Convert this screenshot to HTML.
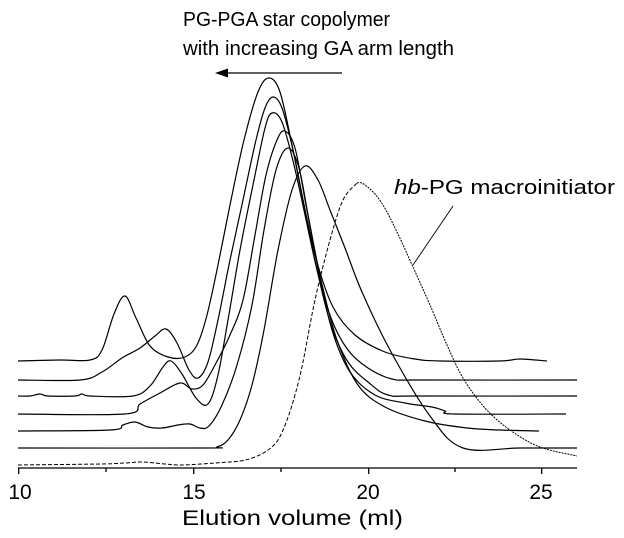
<!DOCTYPE html>
<html><head><meta charset="utf-8"><style>
html,body{margin:0;padding:0;background:#fff;}
svg{display:block;}
text{font-family:"Liberation Sans",Arial,sans-serif;fill:#000;}
</style></head><body>
<svg id="s" width="624" height="538" viewBox="0 0 624 538" xmlns="http://www.w3.org/2000/svg">
<g stroke="#000" stroke-width="1.3" fill="none">
<line x1="18" y1="468" x2="577" y2="468"/>
<line x1="18.7" y1="468" x2="18.7" y2="474"/>
<line x1="193.7" y1="468" x2="193.7" y2="474"/>
<line x1="368.7" y1="468" x2="368.7" y2="474"/>
<line x1="541.7" y1="468" x2="541.7" y2="474"/>
<line x1="106" y1="468" x2="106" y2="472"/>
<line x1="281" y1="468" x2="281" y2="472"/>
<line x1="455" y1="468" x2="455" y2="472"/>
<line x1="228" y1="73" x2="342" y2="73"/>
<line x1="453" y1="206" x2="413" y2="265" stroke-width="0.9"/>
</g>
<polygon points="215,73 228,68.5 228,77.5" fill="#000"/>
<text x="20" y="499" font-size="21" text-anchor="middle">10</text>
<text x="194" y="499" font-size="21" text-anchor="middle">15</text>
<text x="368" y="499" font-size="21" text-anchor="middle">20</text>
<text x="541" y="499" font-size="21" text-anchor="middle">25</text>
<text x="182" y="525" font-size="21" textLength="221" lengthAdjust="spacingAndGlyphs">Elution  volume (ml)</text>
<text x="183" y="26" font-size="20" textLength="207" lengthAdjust="spacingAndGlyphs">PG-PGA star copolymer</text>
<text x="183" y="55" font-size="20" textLength="271" lengthAdjust="spacingAndGlyphs">with increasing GA arm length</text>
<text x="394" y="194" font-size="20" textLength="221" lengthAdjust="spacingAndGlyphs"><tspan font-style="italic">hb</tspan>-PG macroinitiator</text>
<g id="curves" stroke="#000" stroke-width="1.2" fill="none"></g>
</svg>
<script>
var C=[
 [[18,361],[60,360],[90,360],[102,350],[114,314],[125,296],[136,318],[150,346],[168,357],[185,357],[197,345],[207,315],[218,265],[230,205],[244,140],[258,92],[269,78],[280,92],[292,145],[304,205],[317,262],[333,307],[355,335],[385,352],[415,359],[440,361],[500,361],[520,359],[547,361]],
 [[18,380],[80,380],[102,372],[122,358],[140,348],[155,336],[166,329],[177,343],[189,370],[198,378],[208,362],[218,320],[230,260],[243,200],[256,140],[265,108],[273,97],[282,108],[293,150],[304,205],[316,265],[331,318],[348,350],[368,368],[392,379],[420,380],[577,380]],
 [[18,396],[30,396],[40,394],[48,396],[75,396],[82,394],[90,396],[133,396],[150,386],[163,367],[171,361],[182,374],[196,398],[208,404],[218,375],[228,320],[240,250],[254,180],[265,128],[272,113],[282,122],[294,165],[305,215],[317,270],[331,325],[348,362],[368,382],[388,395],[420,396],[577,396]],
 [[18,414],[125,414],[140,404],[160,393],[180,383],[192,389],[203,385],[215,365],[230,335],[243,300],[255,235],[266,175],[277,140],[285,131],[295,148],[306,205],[318,268],[332,330],[350,372],[375,395],[405,403],[432,407],[445,411],[455,414],[566,414]],
 [[18,431],[110,430],[123,425],[135,422],[148,427],[162,428],[178,425],[190,424],[200,428],[209,426],[222,405],[237,365],[252,305],[264,230],[276,170],[288,148],[299,168],[309,220],[321,280],[337,340],[358,385],[385,407],[425,421],[467,428],[500,430],[539,431]],
 [[18,448],[205,448],[217,447],[228,440],[240,420],[252,385],[264,330],[278,250],[292,190],[305,166],[318,180],[330,210],[345,248],[362,292],[390,350],[430,416],[463,448],[520,448],[577,448]]
];
var DL=[[18,465],[100,464],[125,463],[143,462],[165,464],[183,465],[215,463],[240,461],[255,457],[268,450],[278,440],[287,420],[295,395],[303,362],[315,300],[330,240],[343,200],[357,183]];
var DR=[[343,200],[357,183],[370,189],[383,205],[397,232],[413,267],[430,305],[447,345],[463,378],[485,408],[510,430],[540,447],[577,456]];
function cr(p,skip){var d="";for(var i=0;i<p.length-1;i++){var p0=p[i-1]||p[i],p1=p[i],p2=p[i+1],p3=p[i+2]||p2;if(i==0)d="M"+p1[0]+","+p1[1];var c1x=p1[0]+(p2[0]-p0[0])/6,c1y=p1[1]+(p2[1]-p0[1])/6,c2x=p2[0]-(p3[0]-p1[0])/6,c2y=p2[1]-(p3[1]-p1[1])/6;if(skip&&i==0){d="M"+p2[0]+","+p2[1];continue;}d+=" C"+c1x.toFixed(1)+","+c1y.toFixed(1)+" "+c2x.toFixed(1)+","+c2y.toFixed(1)+" "+p2[0]+","+p2[1];}return d;}
var g=document.getElementById("curves"),ns="http://www.w3.org/2000/svg";
C.forEach(function(c){var e=document.createElementNS(ns,"path");e.setAttribute("d",cr(c));g.appendChild(e);});
var a=document.createElementNS(ns,"path");a.setAttribute("d",cr(DL));a.setAttribute("stroke-dasharray","4 2");a.setAttribute("stroke-width","1");g.appendChild(a);
var b=document.createElementNS(ns,"path");b.setAttribute("d",cr(DR,true));b.setAttribute("stroke-dasharray","2 1");b.setAttribute("stroke-width","1");g.appendChild(b);
</script>
</body></html>
